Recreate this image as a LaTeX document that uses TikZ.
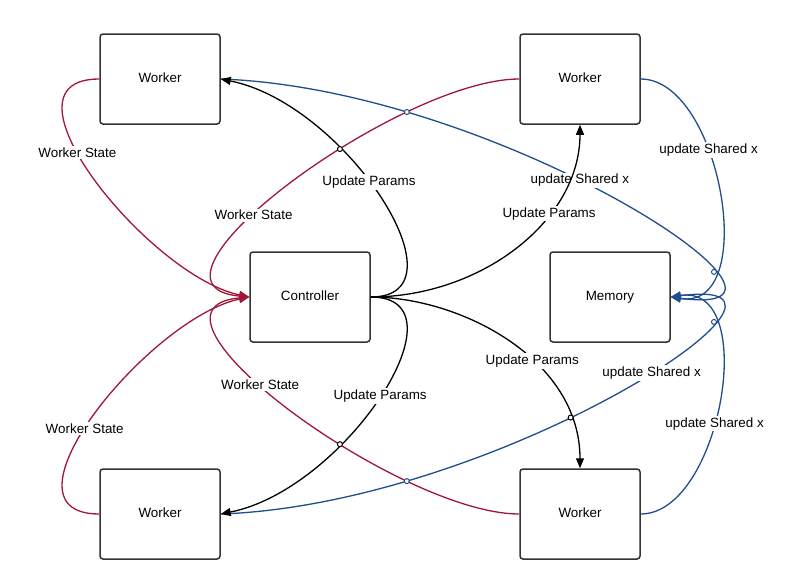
\documentclass[tikz,border=0pt]{standalone}
\usepackage{fontspec}
\setmainfont{Liberation Sans}
\usetikzlibrary{arrows.meta,intersections}
\definecolor{redc}{HTML}{A0173A}
\definecolor{bluec}{HTML}{1F4E8C}
\definecolor{boxc}{HTML}{333333}
\tikzset{
  box/.style={draw=boxc,line width=1.5pt,rounded corners=3pt,minimum width=120pt,minimum height=90pt,inner sep=0pt,font=\fontsize{13.4pt}{15pt}\selectfont,fill=white},
  conn/.style={line width=1.3pt,-{Triangle[length=10pt,width=8pt]}},
  statec/.style={conn,draw=redc,color=redc},
  paramc/.style={conn,draw=black,color=black},
  sharec/.style={conn,draw=bluec,color=bluec},
  lbl/.style={fill=white,inner sep=1.5pt,text=black,font=\fontsize{13.4pt}{15pt}\selectfont},
  hop/.style={line width=1pt,fill=white}
}
\begin{document}
\begin{tikzpicture}[x=1pt,y=-1pt]
\useasboundingbox[fill=white] (0,0) rectangle (788,576);
\node[box] (wtl) at (160,79) {\raisebox{2pt}{Worker}};
\node[box] (wtr) at (580,79) {\raisebox{2pt}{Worker}};
\node[box] (ctrl) at (310,297) {\raisebox{2pt}{Controller}};
\node[box] (mem) at (610,297) {\raisebox{2pt}{Memory}};
\node[box] (wbl) at (160,514) {\raisebox{2pt}{Worker}};
\node[box] (wbr) at (580,514) {\raisebox{2pt}{Worker}};

% Worker State (red)
\draw[statec,name path=r1] (wtl.west) .. controls +(-110,0) and +(-100,-21) .. node[lbl,pos=0.41]{Worker State} (ctrl.west);
\draw[statec,name path=r2] (wtr.west) .. controls +(-120,0) and +(-130,-12) .. node[lbl,pos=0.6]{Worker State} (ctrl.west);
\draw[statec,name path=r3] (wbl.west) .. controls +(-110,0) and +(-100,21) .. node[lbl,pos=0.45]{Worker State} (ctrl.west);
\draw[statec,name path=r4] (wbr.west) .. controls +(-120,0) and +(-130,12) .. node[lbl,pos=0.58]{Worker State} (ctrl.west);

% update Shared x (blue)
\draw[sharec,name path=b1] (wtl.east) .. controls +(280,10) and +(180,24) .. node[lbl,pos=0.44]{update Shared x} (mem.east);
\draw[sharec,name path=b2] (wtr.east) .. controls +(80,0) and +(90,14) .. node[lbl,pos=0.37]{update Shared x} (mem.east);
\draw[sharec,name path=b3] (wbl.east) .. controls +(280,-10) and +(180,-24) .. node[lbl,pos=0.56]{update Shared x} (mem.east);
\draw[sharec,name path=b4] (wbr.east) .. controls +(80,0) and +(90,-14) .. node[lbl,pos=0.43]{update Shared x} (mem.east);

% Update Params (black)
\draw[paramc,name path=k1] (ctrl.east) .. controls +(100,0) and +(125,25) .. node[lbl,pos=0.55]{Update Params} (wtl.east);
\draw[paramc,name path=k2] (ctrl.east) .. controls +(110,0) and +(0,96) .. node[lbl,pos=0.66]{Update Params} (wtr.south);
\draw[paramc,name path=k3] (ctrl.east) .. controls +(90,0) and +(0,-109) .. node[lbl,pos=0.6]{Update Params} (wbr.north);
\draw[paramc,name path=k4] (ctrl.east) .. controls +(100,0) and +(125,-25) .. node[lbl,pos=0.5]{Update Params} (wbl.east);

% line hops
\path[name intersections={of=b1 and r2,by=h1}];
\path[name intersections={of=k1 and r2,by=h2}];
\path[name intersections={of=k4 and r4,by=h3}];
\path[name intersections={of=b3 and r4,by=h4}];
\path[name intersections={of=k3 and b3,by=h5}];
\path[name intersections={of=b2 and b1,sort by=b2,by=h6}];
\path[name intersections={of=b4 and b3,sort by=b4,by=h7}];
\draw[hop,draw=bluec] (h1) circle (2.5);
\draw[hop,draw=black] (h2) circle (2.5);
\draw[hop,draw=black] (h3) circle (2.5);
\draw[hop,draw=bluec] (h4) circle (2.5);
\draw[hop,draw=black] (h5) circle (2.5);
\draw[hop,draw=bluec] (h6) circle (2.5);
\draw[hop,draw=bluec] (h7) circle (2.5);
\end{tikzpicture}
\end{document}
